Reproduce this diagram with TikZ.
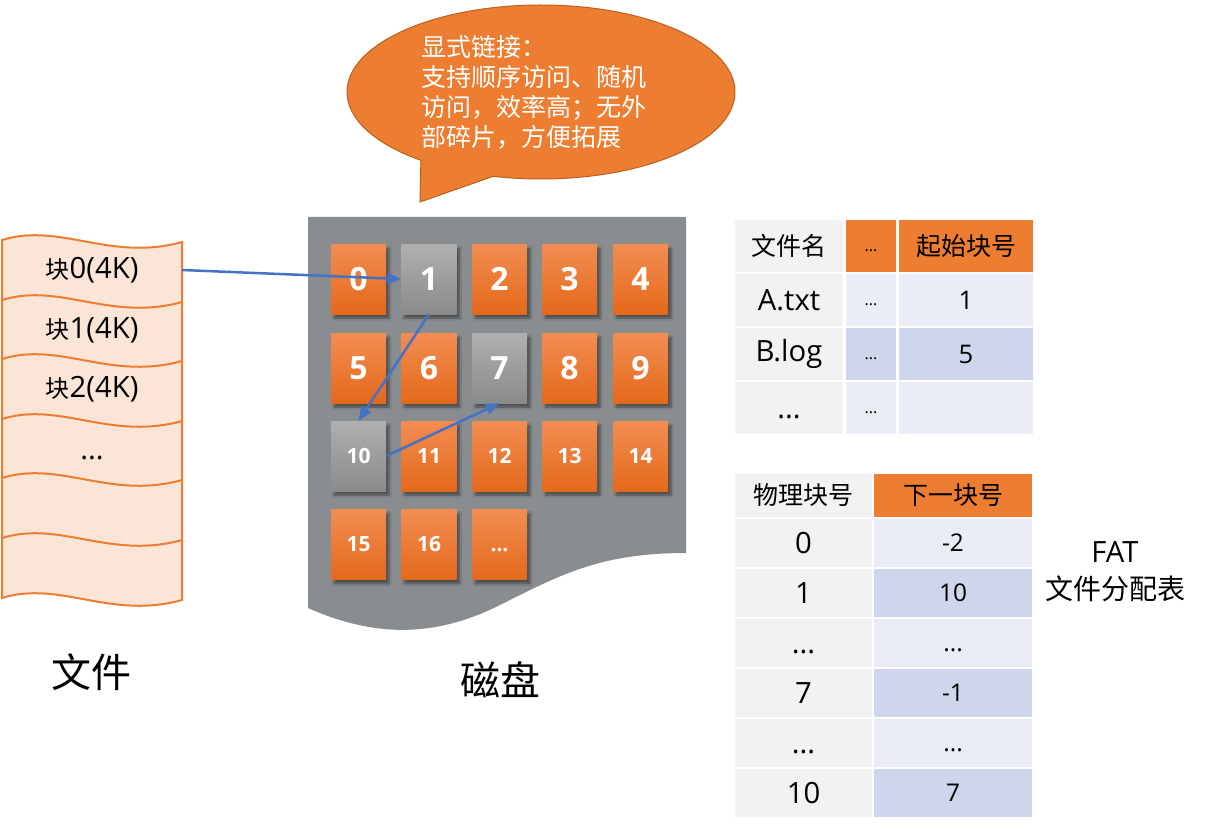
\documentclass[tikz,border=0pt]{standalone}
\usepackage{fontspec}
\setmainfont{Noto Sans CJK SC}
\newfontfamily\numfont{Open Sans}
\newfontfamily\latfont{Open Sans}[Scale=1.22]
\usetikzlibrary{shapes.callouts,shadows.blur,arrows.meta}
\definecolor{orng}{HTML}{ED7D31}
\definecolor{orngdark}{HTML}{B9621F}
\definecolor{filefill}{HTML}{FBE5D6}
\definecolor{diskgray}{HTML}{898D90}
\definecolor{otop}{HTML}{F28D52}
\definecolor{obot}{HTML}{E4691B}
\definecolor{gtop}{HTML}{B0B0B0}
\definecolor{gbot}{HTML}{8A8A8A}
\definecolor{arrowblue}{HTML}{4472C4}
\definecolor{lgray}{HTML}{F2F2F2}
\definecolor{bluea}{HTML}{E9EBF5}
\definecolor{blueb}{HTML}{CFD5EA}
\tikzset{
  blk/.style={minimum width=55pt, minimum height=70pt, inner sep=0pt, text=white,
    font=\numfont\bfseries\fontsize{32}{32}\selectfont,
    blur shadow={shadow xshift=3pt, shadow yshift=-4pt, shadow blur steps=6, shadow opacity=45}},
  ob/.style={blk, top color=otop, bottom color=obot},
  gb/.style={blk, top color=gtop, bottom color=gbot},
  sm/.style={font=\numfont\bfseries\fontsize{21}{21}\selectfont},
  conn/.style={draw=arrowblue, line width=2.5pt, -{Triangle[length=14pt,width=11pt]}},
  frow/.style={minimum width=180pt, minimum height=59pt, inner sep=0pt, font=\fontsize{24}{24}\selectfont},
  wave/.style={draw=orng, line width=2pt},
  cell/.style={inner sep=0pt, font=\fontsize{25}{25}\selectfont},
  ta/.style={cell, minimum width=108pt, minimum height=52pt},
  tb/.style={cell, minimum width=50pt, minimum height=52pt, font=\numfont\fontsize{16}{16}\selectfont},
  tc/.style={cell, minimum width=134pt, minimum height=52pt},
  ua/.style={cell, minimum width=137pt, minimum height=48pt, font=\latfont\fontsize{24}{24}\selectfont},
  ub/.style={cell, minimum width=158pt, minimum height=48pt, font=\latfont\fontsize{20}{20}\selectfont},
  note/.style={ellipse callout, fill=orng, draw=orngdark, line width=1pt,
    minimum width=388pt, minimum height=174pt, inner sep=0pt,
    callout pointer arc=24, text=white, align=left, font=\fontsize{25}{30}\selectfont},
}
\newcommand\dotsb{\vphantom{0}...}
\begin{document}
\begin{tikzpicture}[x=1pt,y=-1pt]
\useasboundingbox (0,0) rectangle (1207,829);

% callout
\node[note, callout absolute pointer={(420,202)}] (callout) at (541,92)
  {显式链接：\\支持顺序访问、随机\hspace*{14pt}\mbox{}\\访问，效率高；无外\\部碎片，方便拓展};

% file
\filldraw[fill=filefill, draw=orng, line width=2pt]
  (2,240) .. controls (60,222) and (110,262) .. (182,242)
  -- (182,600) .. controls (110,620) and (60,580) .. (2,598) -- cycle;
\draw[wave] (2,300) .. controls (60,282) and (110,322) .. (182,302);
\draw[wave] (2,359) .. controls (60,341) and (110,381) .. (182,361);
\draw[wave] (2,419) .. controls (60,401) and (110,441) .. (182,421);
\draw[wave] (2,478) .. controls (60,460) and (110,500) .. (182,480);
\draw[wave] (2,538) .. controls (60,520) and (110,560) .. (182,540);
\node[frow] (f0) at (92,270) {块{\latfont 0(4K)}};
\node[frow] (f1) at (92,330) {块{\latfont 1(4K)}};
\node[frow] (f2) at (92,389) {块{\latfont 2(4K)}};
\node[frow] (f3) at (92,449) {\latfont\dotsb};
\node[font=\fontsize{40}{40}\selectfont] (filelabel) at (91,672) {文件};

% disk
\fill[diskgray] (308,217) -- (686,217) -- (686,553)
  .. controls (600,553) and (560,575) .. (500,605)
  .. controls (440,635) and (380,640) .. (308,608) -- cycle;
\node[ob] (b0) at (358.5,279) {0};
\node[gb] (b1) at (429,279) {1};
\node[ob] (b2) at (499.5,279) {2};
\node[ob] (b3) at (569.5,279) {3};
\node[ob] (b4) at (640.5,279) {4};
\node[ob] (b5) at (358.5,368) {5};
\node[ob] (b6) at (429,368) {6};
\node[gb] (b7) at (499.5,368) {7};
\node[ob] (b8) at (569.5,368) {8};
\node[ob] (b9) at (640.5,368) {9};
\node[gb, sm] (b10) at (358.5,456) {10};
\node[ob, sm] (b11) at (429,456) {11};
\node[ob, sm] (b12) at (499.5,456) {12};
\node[ob, sm] (b13) at (569.5,456) {13};
\node[ob, sm] (b14) at (640.5,456) {14};
\node[ob, sm] (b15) at (358.5,544.5) {15};
\node[ob, sm] (b16) at (429,544.5) {16};
\node[ob, sm] (bdots) at (499.5,544.5) {\dotsb};
\node[font=\fontsize{40}{40}\selectfont] (disklabel) at (500,680) {磁盘};

\draw[conn] (f0.east) -- (b1.west);
\draw[conn] (b1.south) -- (b10.north);
\draw[conn] (b10.east) -- (b7.south);

% directory table
\node[ta, fill=lgray] (d00) at (789,246) {文件名};
\node[tb, fill=orng] (d01) at (871,246) {\dotsb};
\node[tc, fill=orng] (d02) at (966,246) {起始块号};
\node[ta, fill=lgray, font=\latfont\fontsize{24}{24}\selectfont] (d10) at (789,300) {A.txt};
\node[tb, fill=bluea] (d11) at (871,300) {\dotsb};
\node[tc, fill=bluea, font=\latfont\fontsize{21}{21}\selectfont] (d12) at (966,300) {1};
\node[ta, fill=lgray, font=\latfont\fontsize{24}{24}\selectfont] (d20) at (789,354) {B.log};
\node[tb, fill=blueb] (d21) at (871,354) {\dotsb};
\node[tc, fill=blueb, font=\latfont\fontsize{21}{21}\selectfont] (d22) at (966,354) {5};
\node[ta, fill=lgray, font=\latfont\fontsize{24}{24}\selectfont] (d30) at (789,408) {\dotsb};
\node[tb, fill=bluea] (d31) at (871,408) {\dotsb};
\node[tc, fill=bluea] (d32) at (966,408) {};

% FAT
\node[ua, fill=lgray, minimum height=43pt, font=\fontsize{25}{25}\selectfont] (t00) at (803.5,495.5) {物理块号};
\node[ub, fill=orng, minimum height=43pt, font=\fontsize{25}{25}\selectfont] (t01) at (953,495.5) {下一块号};
\node[ua, fill=lgray] (t10) at (803.5,543) {0};
\node[ub, fill=bluea] (t11) at (953,543) {-2};
\node[ua, fill=lgray] (t20) at (803.5,593) {1};
\node[ub, fill=blueb] (t21) at (953,593) {10};
\node[ua, fill=lgray] (t30) at (803.5,643) {\dotsb};
\node[ub, fill=bluea] (t31) at (953,643) {\dotsb};
\node[ua, fill=lgray] (t40) at (803.5,693) {7};
\node[ub, fill=blueb] (t41) at (953,693) {-1};
\node[ua, fill=lgray] (t50) at (803.5,743) {\dotsb};
\node[ub, fill=bluea] (t51) at (953,743) {\dotsb};
\node[ua, fill=lgray] (t60) at (803.5,793) {10};
\node[ub, fill=blueb] (t61) at (953,793) {7};
\node[align=center, font=\fontsize{28}{37}\selectfont] (fatlabel) at (1115,572) {{\latfont\fontsize{24}{24}\selectfont FAT}\\文件分配表};
\end{tikzpicture}
\end{document}
